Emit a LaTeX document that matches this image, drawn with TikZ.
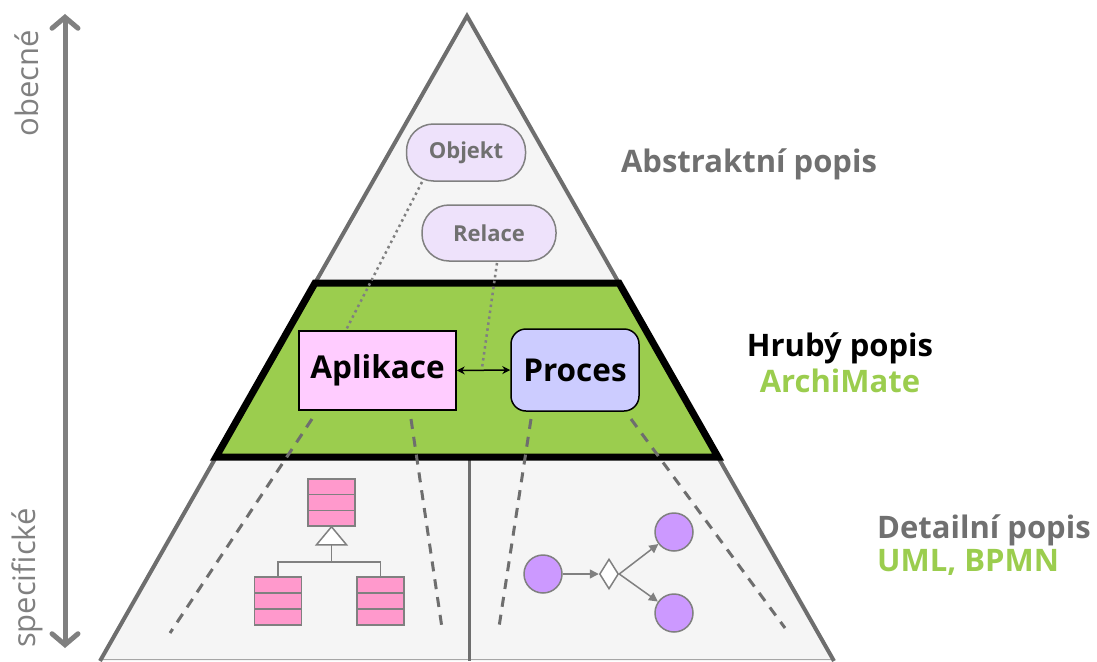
\documentclass[tikz,border=0pt]{standalone}
\usepackage{fontspec}
\setmainfont{Open Sans}
\usetikzlibrary{arrows.meta,shapes.geometric,calc}

\definecolor{edgegray}{HTML}{6E6E6E}
\definecolor{paper}{HTML}{F5F5F5}
\definecolor{band}{HTML}{9BCD4E}
\definecolor{txtgray}{HTML}{707070}
\definecolor{softgray}{HTML}{808080}
\definecolor{pillfill}{HTML}{EEE2FB}
\definecolor{appfill}{HTML}{FFCCFF}
\definecolor{procfill}{HTML}{CCCCFF}
\definecolor{classfill}{HTML}{FF99CC}
\definecolor{eventfill}{HTML}{CC99FF}
\definecolor{leafgreen}{HTML}{9BCD4E}

\tikzset{
  pill/.style={draw=softgray, line width=1.5pt, fill=pillfill, rounded corners=27pt,
    inner sep=0pt, text=txtgray, font=\bfseries\fontsize{22}{26}\selectfont},
  element/.style={draw=black, line width=1.5pt, inner sep=0pt,
    font=\bfseries\fontsize{31.5}{36}\selectfont},
  trace/.style={softgray, line width=2.5pt, dash pattern=on 2.5pt off 3.5pt},
  zoomline/.style={edgegray, line width=3pt, dash pattern=on 10pt off 8pt},
  umlclass/.style={draw=softgray, line width=1.5pt, fill=classfill, inner sep=0pt,
    minimum width=47pt, minimum height=47pt,
    path picture={
      \draw[softgray, line width=1.5pt]
        ($(path picture bounding box.north west)!1/3!(path picture bounding box.south west)$) --
        ($(path picture bounding box.north east)!1/3!(path picture bounding box.south east)$)
        ($(path picture bounding box.north west)!2/3!(path picture bounding box.south west)$) --
        ($(path picture bounding box.north east)!2/3!(path picture bounding box.south east)$);
    }},
  umlline/.style={softgray, line width=1.5pt},
  event/.style={circle, draw=softgray, line width=1.5pt, fill=eventfill,
    minimum size=38pt, inner sep=0pt},
  gateway/.style={diamond, draw=softgray, line width=1.5pt, fill=white,
    minimum width=19pt, minimum height=30pt, inner sep=0pt},
  flow/.style={softgray, line width=1.5pt, -{Triangle[length=9pt,width=9pt]}},
  sidelabel/.style={font=\bfseries\fontsize{31}{36}\selectfont, inner sep=0pt},
  axislabel/.style={font=\fontsize{31}{36}\selectfont, text=softgray, rotate=90, inner sep=0pt},
}

\begin{document}
\begin{tikzpicture}[x=1pt, y=-1pt]
\useasboundingbox (0,0) rectangle (1097,661);

% pyramid
\coordinate (apex) at (467,16);
\coordinate (baseL) at (100,661);
\coordinate (baseR) at (834,661);
\fill[paper] (apex) -- (baseR) -- (baseL) -- cycle;
\draw[black!35, line width=1.5pt] (100,659.5) -- (834,659.5);
\draw[edgegray, line width=4pt, line join=miter] (baseL) -- (apex) -- (baseR);

% divider of the detailed level
\coordinate (divTop) at (469,457);
\coordinate (divBot) at (469,661);
\draw[edgegray, line width=3pt] (divTop) -- (divBot);

% middle band
\coordinate (bandTL) at (315,283);
\coordinate (bandTR) at (619,283);
\coordinate (bandBR) at (718,457);
\coordinate (bandBL) at (216,457);
\draw[black, line width=7pt, fill=band, line join=miter]
  (bandTL) -- (bandTR) -- (bandBR) -- (bandBL) -- cycle;

% abstract concepts
\node[pill, minimum width=119pt, minimum height=57pt] (obj) at (466,152.5) {Objekt};
\node[pill, minimum width=134pt, minimum height=56pt] (rel) at (489,233) {Relace};

% ArchiMate elements
\node[element, fill=appfill, minimum width=157pt, minimum height=79pt] (app) at (377.5,370.5) {Aplikace};
\node[element, fill=procfill, rounded corners=15pt, minimum width=128pt, minimum height=82pt] (proc) at (575,370) {Proces};

% traces from the abstract level
\coordinate (objFoot) at (422,182);
\coordinate (appHead) at (346,330);
\coordinate (relFoot) at (497,263);
\coordinate (linkMid) at (482,368);
\draw[trace] (objFoot) -- (appHead);
\draw[trace] (relFoot) -- (linkMid);

\draw[black, line width=1.5pt, {Stealth[length=8pt,width=8pt]}-{Stealth[length=8pt,width=8pt]}]
  (app.east) -- (proc.west);

% expansion lines to the detailed models
\coordinate (appZL) at (312,419);
\coordinate (appZR) at (411,419);
\coordinate (procZL) at (531,419);
\coordinate (procZR) at (631,419);
\coordinate (umlL) at (170,633);
\coordinate (umlR) at (442,628);
\coordinate (bpmnL) at (499,627);
\coordinate (bpmnR) at (785,628);
\draw[zoomline] (appZL) -- (umlL);
\draw[zoomline] (appZR) -- (umlR);
\draw[zoomline] (procZL) -- (bpmnL);
\draw[zoomline] (procZR) -- (bpmnR);

% UML class hierarchy
\node[umlclass] (c1) at (331.5,502.5) {};
\node[umlclass, minimum height=48pt] (c2) at (278,601) {};
\node[umlclass, minimum height=48pt] (c3) at (380.5,601) {};
\draw[umlline, fill=white, line join=miter] (c1.south) -- ++(15,18) -- ++(-30,0) -- cycle;
\coordinate (genBase) at ($(c1.south)+(0,18)$);
\draw[umlline] (genBase) -- ++(0,17) -| (c2.north);
\draw[umlline] (genBase) -- ++(0,17) -| (c3.north);

% BPMN fragment
\node[event] (start) at (543,574) {};
\node[gateway] (gw) at (609,574) {};
\node[event] (endA) at (674,532) {};
\node[event] (endB) at (674,613) {};
\draw[flow] (start) -- (gw.west);
\draw[flow] (gw.east) -- (endA);
\draw[flow] (gw.east) -- (endB);

% level labels
\node[sidelabel, text=txtgray, anchor=base] (lvlA) at (749,172) {Abstraktní popis};
\node[sidelabel, text=black, anchor=base] (lvlH) at (840,356) {Hrubý popis};
\node[sidelabel, text=leafgreen, anchor=base] (lvlHn) at (840,392) {ArchiMate};
\node[sidelabel, text=txtgray, anchor=base west] (lvlD) at (877,538) {Detailní popis};
\node[sidelabel, text=leafgreen, anchor=base west] (lvlDn) at (877,571) {UML, BPMN};

% generality axis
\coordinate (axTop) at (65,14);
\coordinate (axBot) at (65,648);
\draw[softgray, line width=5pt,
  {Straight Barb[length=11pt,width=26pt,line cap=round]}-{Straight Barb[length=11pt,width=26pt,line cap=round]}]
  (axTop) -- (axBot);
\node[axislabel] (gen) at (27,83) {obecné};
\node[axislabel] (spec) at (27,578) {specifické};
\end{tikzpicture}
\end{document}
